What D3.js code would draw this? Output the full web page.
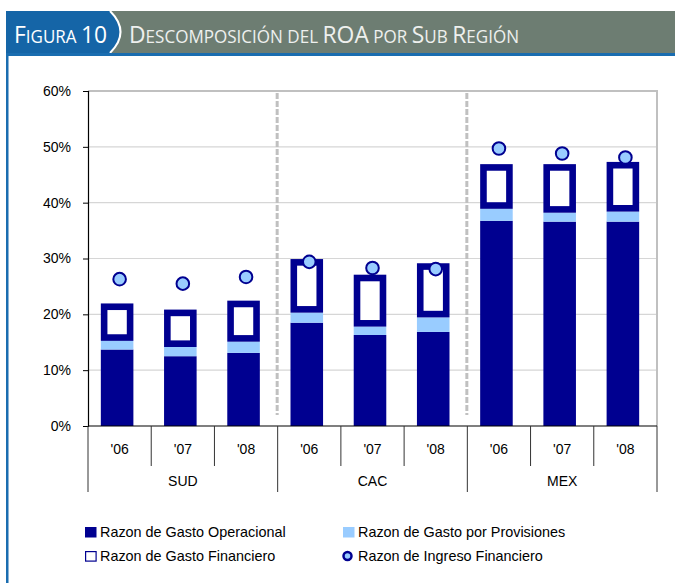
<!DOCTYPE html>
<html><head><meta charset="utf-8">
<script src="https://cdn.jsdelivr.net/npm/d3@7"></script>
<style>body{margin:0;background:#fff}svg{display:block}</style>
</head><body>
<svg id="c" width="675" height="583"></svg>
<script>
const years = ["'06","'07","'08","'06","'07","'08","'06","'07","'08"];
const groups = ["SUD","CAC","MEX"];
const gastoOperacional = [13.7,12.5,13.1,18.5,16.3,16.85,36.75,36.6,36.6];
const gastoProvisiones = [1.55,1.65,2.0,1.8,1.5,2.6,2.15,1.6,1.8];
const gastoFinanciero = [6.7,6.7,7.35,9.6,9.3,9.7,8.0,8.7,8.9];
const ingresoFinanciero = [26.3,25.5,26.7,29.4,28.3,28.1,49.7,48.8,48.1];
const yTicks = [0,10,20,30,40,50,60];
const legendLabels = ["Razon de Gasto Operacional","Razon de Gasto por Provisiones","Razon de Gasto Financiero","Razon de Ingreso Financiero"];

const NAVY="#000090", LIGHT="#99ccff";
const svg=d3.select("#c");
const FONT="'Liberation Sans', Arial, sans-serif";

// ---- Header ----
svg.append("rect").attr("x",6).attr("y",11).attr("width",669).attr("height",42).attr("fill","#6d7d72");
svg.append("path").attr("d","M6,11 L110,11 Q131,32 110,53 L6,53 Z").attr("fill","#1565a7");
svg.append("path").attr("d","M110,11 Q131,32 110,53").attr("fill","none").attr("stroke","#fff").attr("stroke-width",2);
svg.append("rect").attr("x",6).attr("y",53).attr("width",669).attr("height",3).attr("fill","#1a6db0");
svg.append("rect").attr("x",6).attr("y",53).attr("width",2.5).attr("height",530).attr("fill","#1a6db0");

function smallCaps(parent,x,y,parts,fill,len){
  const t=parent.append("text").attr("x",x).attr("y",y).attr("fill",fill)
    .style("font-family","'Open Sans', 'Noto Sans', sans-serif").attr("textLength",len).attr("lengthAdjust","spacingAndGlyphs");
  parts.forEach(([s,big])=>t.append("tspan").text(s).style("font-size",big?"23.5px":"17.5px"));
}
smallCaps(svg,14,43,[["F",1],["IGURA ",0],["10",1]],"#ffffff",93);
smallCaps(svg,129,43,[["D",1],["ESCOMPOSICIÓN DEL ",0],["ROA",1],[" POR ",0],["S",1],["UB ",0],["R",1],["EGIÓN",0]],"#eef0ee",390);

// ---- Chart ----
const X0=88,X1=657;
const x=d3.scaleBand().domain(d3.range(years.length)).range([X0,X1]).padding(0);
const y=d3.scaleLinear().domain([0,60]).range([426,91]);
const bw=x.bandwidth()*0.515, off=-2.5;

svg.append("g").selectAll("line").data(yTicks.filter(d=>d>0&&d<60)).join("line")
  .attr("x1",X0).attr("x2",X1).attr("y1",d=>y(d)).attr("y2",d=>y(d))
  .attr("stroke","#d6d6d6").attr("stroke-width",1.2);
svg.append("path").attr("d",`M${X0},${y(60)} L${X1},${y(60)} L${X1},${y(0)}`)
  .attr("fill","none").attr("stroke","#c0c0c0").attr("stroke-width",2);

svg.append("g").selectAll("line").data([3,6]).join("line")
  .attr("x1",d=>x(d)-0.5).attr("x2",d=>x(d)-0.5).attr("y1",y(60)+2).attr("y2",415)
  .attr("stroke","#c0c0c0").attr("stroke-width",3).attr("stroke-dasharray","6 2");

const rows=years.map((yr,i)=>({i,op:gastoOperacional[i],prov:gastoProvisiones[i],fin:gastoFinanciero[i]}));
const stack=d3.stack().keys(["op","prov","fin"])(rows);
const colors={op:NAVY,prov:LIGHT,fin:NAVY};
stack.forEach(layer=>{
  const g=svg.append("g");
  g.selectAll("rect").data(layer).join("rect")
    .attr("x",d=>x(d.data.i)+x.bandwidth()/2-bw/2+off)
    .attr("width",bw)
    .attr("y",d=>y(d[1])).attr("height",d=>y(d[0])-y(d[1]))
    .attr("fill",colors[layer.key]);
  if(layer.key==="fin"){
    const ins=6.6;
    g.selectAll("rect.in").data(layer).join("rect").attr("class","in")
      .attr("x",d=>x(d.data.i)+x.bandwidth()/2-bw/2+off+ins)
      .attr("width",bw-2*ins)
      .attr("y",d=>y(d[1])+ins).attr("height",d=>Math.max(0,y(d[0])-y(d[1])-2*ins))
      .attr("fill","#fff");
  }
});

svg.append("g").selectAll("circle").data(ingresoFinanciero).join("circle")
  .attr("cx",(d,i)=>x(i)+x.bandwidth()/2).attr("cy",d=>y(d)).attr("r",6.3)
  .attr("fill",LIGHT).attr("stroke",NAVY).attr("stroke-width",2);

const ya=svg.append("g").attr("transform",`translate(${X0},0)`)
  .call(d3.axisLeft(y).tickValues(yTicks).tickSize(5).tickPadding(12).tickFormat(d=>d+"%"));
ya.select(".domain").attr("stroke","#000").attr("stroke-width",1.2);
ya.selectAll(".tick line").attr("stroke","#000");
ya.selectAll("text").style("font-family",FONT).style("font-size","14px").attr("fill","#000");

svg.append("line").attr("x1",X0).attr("x2",X1).attr("y1",y(0)).attr("y2",y(0)).attr("stroke","#000").attr("stroke-width",1.2);
const bounds=d3.range(years.length+1);
svg.append("g").selectAll("line").data(bounds).join("line")
  .attr("x1",d=>d<years.length?x(d):X1).attr("x2",d=>d<years.length?x(d):X1)
  .attr("y1",y(0)).attr("y2",d=>d%3===0?492:466)
  .attr("stroke","#333").attr("stroke-width",1);
svg.append("g").selectAll("text").data(years).join("text")
  .attr("x",(d,i)=>x(i)+x.bandwidth()/2).attr("y",454).attr("text-anchor","middle")
  .style("font-family",FONT).style("font-size","14px").text(d=>d);
svg.append("g").selectAll("text").data(groups).join("text")
  .attr("x",(d,i)=>(x(i*3)+(i*3+3<years.length?x(i*3+3):X1))/2).attr("y",486).attr("text-anchor","middle")
  .style("font-family",FONT).style("font-size","14px").text(d=>d);

const L=svg.append("g");
const items=[
  {lx:85,ly:532,type:"fill",c:NAVY},
  {lx:343,ly:532,type:"fill",c:LIGHT},
  {lx:85,ly:556,type:"hollow",c:NAVY},
  {lx:343,ly:556,type:"circle",c:NAVY}
];
items.forEach((it,k)=>{
  if(it.type==="fill") L.append("rect").attr("x",it.lx).attr("y",it.ly-5).attr("width",11.5).attr("height",10.5).attr("fill",it.c);
  else if(it.type==="hollow") L.append("rect").attr("x",it.lx+0.6).attr("y",it.ly-4.4).attr("width",10.5).attr("height",9.5).attr("fill","#fff").attr("stroke",it.c).attr("stroke-width",1.2);
  else L.append("circle").attr("cx",it.lx+4.5).attr("cy",it.ly).attr("r",4).attr("fill",LIGHT).attr("stroke",NAVY).attr("stroke-width",2.5);
  L.append("text").attr("x",it.lx+15).attr("y",it.ly+5)
    .style("font-family",FONT).style("font-size","14.4px").text(legendLabels[k]);
});
</script>
</body></html>
